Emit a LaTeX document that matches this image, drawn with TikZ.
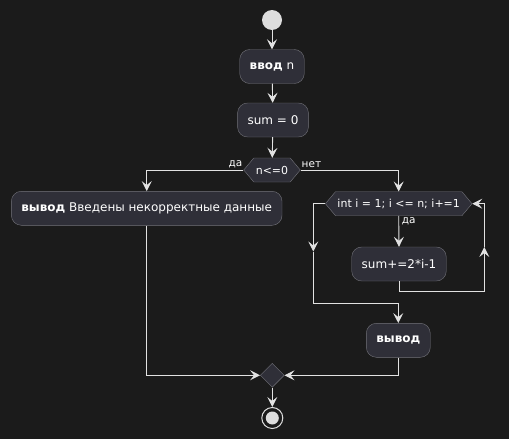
\documentclass[tikz,border=0pt]{standalone}
\usepackage{fontspec}
\setmainfont{DejaVu Sans}
\usetikzlibrary{shapes, positioning, arrows.meta}

\definecolor{bgdark}{HTML}{1B1B1B}
\definecolor{boxfill}{HTML}{2F2F38}
\definecolor{boxline}{HTML}{73737A}
\definecolor{flowline}{HTML}{E2E2E2}
\definecolor{dotfill}{HTML}{DDDDDD}

\begin{document}
\begin{tikzpicture}[
          x=1pt, y=-1pt,
          act/.style={draw=boxline, fill=boxfill, text=white, rounded corners=10pt, minimum height=34pt, inner xsep=10pt, font=\fontsize{12}{14}\selectfont},
          cond/.style={signal, signal to=west and east, signal pointer angle=100, draw=boxline, fill=boxfill, text=white, minimum height=24pt, inner xsep=2pt, inner ysep=0pt, font=\fontsize{11}{13}\selectfont},
          wire/.style={draw=flowline, line width=0.9pt},
          flow/.style={wire, -{Stealth[length=10pt, width=10pt, inset=4pt]}},
          lbl/.style={text=white, font=\fontsize{10.5}{12}\selectfont, inner sep=1pt}
        ]
        \fill[bgdark] (0,0) rectangle (509,439);

        \node[circle, fill=dotfill, minimum size=20pt, inner sep=0pt] (start) at (272,20) {};
        \node[act] (input) at (272,66.5) {\textbf{ввод} n};
        \node[act] (init) at (273,120) {sum = 0};
        \node[cond] (check) at (272,170) {n<=0};
        \node[act] (error) at (146.7,208.3) {\textbf{вывод} Введены некорректные данные};
        \node[cond] (loop) at (398.7,203.7) {int i = 1; i <= n; i+=1};
        \node[act] (accum) at (399,264) {sum+=2*i-1};
        \node[act] (result) at (398.3,340.3) {\textbf{вывод}};
        \node[diamond, draw=boxline, fill=boxfill, minimum size=24pt, inner sep=0pt] (merge) at (272.3,375.3) {};
        \node[circle, draw=dotfill, line width=1pt, fill=bgdark, minimum size=21pt, inner sep=0pt] (stop) at (272.3,418) {};
        \node[circle, fill=dotfill, minimum size=13pt, inner sep=0pt] at (stop) {};

        \coordinate (backR) at (484.3,291);
        \coordinate (backM) at (484.3,247);
        \coordinate (backT) at (484.3,203.7);
        \coordinate (exitM) at (313.3,251.5);
        \coordinate (exitB) at (313.3,303.3);

        \draw[flow] (start) -- (input);
        \draw[flow] (input) -- (init);
        \draw[flow] (init) -- (check);
        \draw[flow] (check.west) -| (error.north);
        \node[lbl, anchor=south east, yshift=1pt] at (check.west) {да};
        \draw[flow] (check.east) -| (loop.north);
        \node[lbl, anchor=south west, yshift=1pt] at (check.east) {нет};
        \draw[flow] (loop.south) -- (accum.north);
        \node[lbl, anchor=north west, xshift=2pt, yshift=-1pt] at (loop.south) {да};
        % loop back
        \draw[flow] (accum.south) |- (backR) -- (backM);
        \draw[flow] (backM) -- (backT) -- (loop.east);
        % loop exit
        \draw[flow] (loop.west) -| (exitM);
        \draw[flow] (exitM) -- (exitB) -| (result.north);
        \draw[flow] (error.south) |- (merge.west);
        \draw[flow] (result.south) |- (merge.east);
        \draw[flow] (merge.south) -- (stop);
        \end{tikzpicture}
\end{document}
